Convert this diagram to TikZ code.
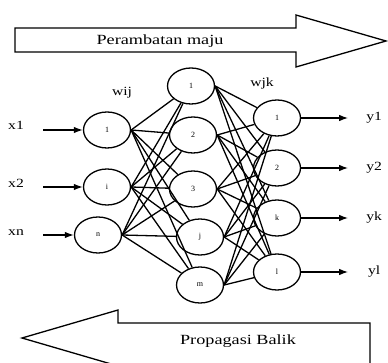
\documentclass[tikz,border=0pt]{standalone}
\usepackage{fontspec}
\setmainfont{Liberation Serif}
\usetikzlibrary{shapes.geometric,arrows.meta}

\begin{document}
\begin{tikzpicture}[x=1pt,y=-1pt,line width=1.3pt,
  neuron/.style={ellipse,draw,minimum width=47pt,minimum height=36pt,inner sep=0pt,font=\fontsize{8}{9}\selectfont},
  lbl/.style={font=\fontsize{12.5}{14}\selectfont,xscale=1.25},
  banner/.style={font=\fontsize{14}{16}\selectfont,xscale=1.3},
  sig/.style={-{Latex[length=9pt,width=6.5pt]}}]
\clip (0,0) rectangle (388,363);
\draw (15,28) -- (296,28) -- (296,15) -- (386,41) -- (296,67) -- (296,52) -- (15,52) -- cycle;
\node[banner] (maju) at (160,41) {Perambatan maju};
\draw (370,323) -- (118,323) -- (118,310) -- (22,338) -- (118,366) -- (118,380) -- (370,380) -- cycle;
\node[banner] (balik) at (238,341) {Propagasi Balik};

\foreach \n/\t/\x/\y in {a/1/107/130, b/i/107/187, c/n/98/235}
  \node[neuron] (in\n) at (\x,\y) {\t};
\foreach \n/\t/\x/\y in {a/1/191/86, b/2/193/135, c/3/193/189, d/j/200/237, e/m/200/285}
  \node[neuron] (h\n) at (\x,\y) {\t};
\foreach \n/\t/\y in {a/1/118, b/2/168, c/k/218, d/l/272}
  \node[neuron] (out\n) at (277,\y) {\t};

\foreach \n/\t/\y in {a/x1/125, b/x2/183, c/xn/233} {
  \node[lbl] (x\n) at (16,\y) {\t};
  \coordinate (s\n) at (in\n.west -| 43,0);
  \draw[sig] (s\n) -- (in\n.west);
}
\foreach \n/\t in {a/y1, b/y2, c/yk, d/yl} {
  \coordinate (e\n) at ([xshift=47pt]out\n.east);
  \draw[sig] (out\n.east) -- (e\n);
  \node[lbl] (y\n) at ([xshift=26pt]e\n) {\t};
}
\node[lbl] (wij) at (122,93) {wij};
\node[lbl] (wjk) at (262,83) {wjk};

\foreach \i in {a,b,c}
  \foreach \h in {a,b,c,d,e}
    \draw (in\i.east) -- (h\h);
\foreach \h in {a,b,c,d,e}
  \foreach \o in {a,b,c,d}
    \draw (h\h.east) -- (out\o);
\end{tikzpicture}
\end{document}
